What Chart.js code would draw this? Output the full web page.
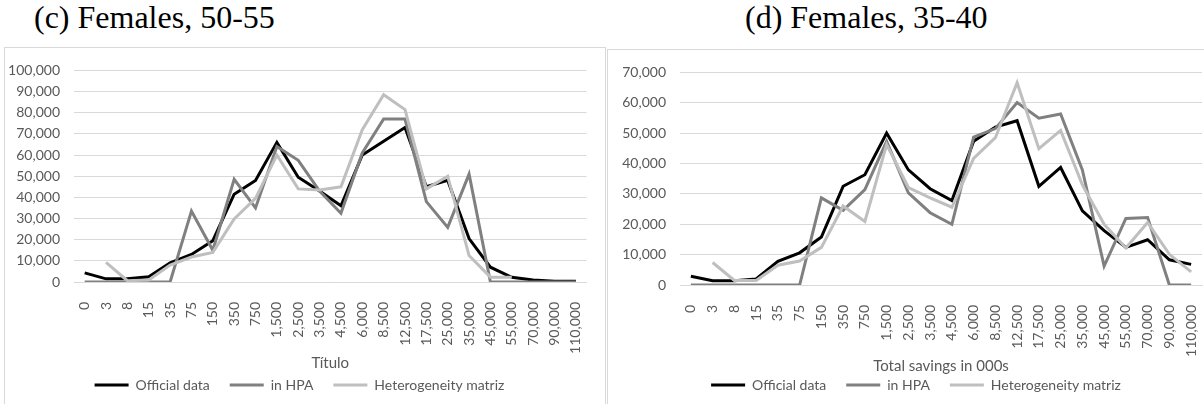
<!DOCTYPE html>
<html>
<head>
<meta charset="utf-8">
<script src="https://cdn.jsdelivr.net/npm/chart.js"></script>
<style>
  html, body { margin:0; padding:0; background:#fff; }
  body { width:1204px; height:404px; position:relative; overflow:hidden; }
  .ttl { position:absolute; top:1px; font-family:"Liberation Serif", serif; font-size:32px; line-height:1; color:#000; white-space:nowrap; }
  .box { position:absolute; border:1px solid #d9d9d9; overflow:hidden; }
  .box canvas { display:block; }
</style>
</head>
<body>
  <div class="ttl" style="left:34px;">(c) Females, 50-55</div>
  <div class="ttl" style="left:745px;">(d) Females, 35-40</div>
  <div class="box" style="left:4px;top:47px;width:600px;height:380px;">
    <canvas id="chartC" width="600" height="380"></canvas>
  </div>
  <div class="box" style="left:607px;top:49px;width:618px;height:380px;">
    <canvas id="chartD" width="618" height="380"></canvas>
  </div>
<script>
// savings brackets (000s), same for both panels
const brackets = ["0","3","8","15","35","75","150","350","750","1,500","2,500","3,500","4,500","6,000",
  "8,500","12,500","17,500","25,000","35,000","45,000","55,000","70,000","90,000","110,000"];

// (c) Females, 50-55
const officialC = [4300,1500,1500,2500,9000,13000,19500,41500,48000,66000,49500,43000,36000,60000,66500,73000,45000,48000,20500,7000,2200,900,400,300];
const hpaC      = [0,0,0,0,0,33500,15000,48500,35000,64000,57500,43000,32500,61000,77000,77000,38000,25800,51000,0,0,0,0,0];
const heteroC   = [null,9300,600,900,8000,11800,14000,29800,39500,60000,44000,43500,45000,72000,88500,81500,44000,50000,12500,2300,2300,null,null,null];

// (d) Females, 35-40
const officialD = [2900,1400,1400,2000,7800,10600,15800,32500,36300,50000,37900,31700,27800,47300,52000,54100,32500,38700,24400,17900,12400,14900,8300,6800];
const hpaD      = [0,0,0,0,0,0,28700,24600,31400,47300,30300,23800,20000,48700,51500,60100,54900,56300,37900,6200,21900,22200,0,0];
const heteroD   = [null,7400,1500,1500,6500,7900,12400,26000,20900,46200,32100,28700,25600,41700,48500,66600,44900,50900,33000,20000,12200,20600,10100,4300];

const seriesNames  = ["Official data","in HPA","Heterogeneity matriz"];
const seriesColors = ["#000000","#808080","#bfbfbf"];

const TXT = "#595959", GRID = "#d9d9d9";
const FONT = { family:"Lato, 'Open Sans', sans-serif", size:14 };

// nudge the legend sideways (Excel centres it on the whole box, not the plot)
const legendNudge = {
  id: "legendNudge",
  afterLayout(chart, args, o) {
    const lg = chart.legend;
    if (lg && o.dx) { lg.left += o.dx; lg.right += o.dx; }
  }
};

function makeChart(id, data, opt) {
  const ctx = document.getElementById(id).getContext("2d");
  return new Chart(ctx, {
    type: "line",
    plugins: [legendNudge],
    data: {
      labels: brackets,
      datasets: data.map((vals, i) => ({
        label: seriesNames[i],
        data: vals,
        borderColor: seriesColors[i],
        backgroundColor: seriesColors[i],
        borderWidth: 3,
        pointRadius: 0,
        tension: 0,
        spanGaps: false,
        order: 2 - i   // last series painted on top, like Excel
      }))
    },
    options: {
      responsive: false,
      animation: false,
      layout: { padding: { left: 0, right: opt.padR, top: opt.padT, bottom: opt.padB } },
      plugins: {
        tooltip: { enabled:false },
        legendNudge: { dx: opt.legendDx },
        legend: {
          position: "bottom",
          labels: {
            color: TXT, font: FONT, boxWidth: 34, boxHeight: 3, padding: 20,
            sort: (a, b) => a.datasetIndex - b.datasetIndex,
            generateLabels: ch => Chart.defaults.plugins.legend.labels.generateLabels(ch)
              .map(l => Object.assign(l, { lineWidth: 0 }))
          }
        }
      },
      scales: {
        x: {
          offset: true,
          grid: { display:false },
          border: { display:true, color: GRID, width: 1 },
          ticks: { color: TXT, font: FONT, autoSkip:false, maxRotation:90, minRotation:90, padding: 12 },
          title: { display:true, text: opt.xTitle, color: TXT, font: { family: FONT.family, size: 15 },
                   padding: { top: 0, bottom: opt.titlePadB } },
          afterFit: s => { s.height = opt.xH; }
        },
        y: {
          min: 0, max: opt.yMax,
          grid: { color: GRID, lineWidth: 1, drawTicks:false },
          border: { display:false },
          ticks: { stepSize: 10000, color: TXT, font: FONT, padding: 14,
                   callback: v => v.toLocaleString("en-US") },
          afterFit: s => { s.width = opt.yW; }
        }
      }
    }
  });
}

makeChart("chartC", [officialC, hpaC, heteroC],
  { yMax:100000, padR:17, padT:19, padB:26, yW:69, xH:76, titlePadB:-14, legendDx:3, xTitle:"Título" });
makeChart("chartD", [officialD, hpaD, heteroD],
  { yMax:70000, padR:24, padT:19, padB:28, yW:72, xH:73, titlePadB:-17, legendDx:11, xTitle:"Total savings in 000s" });
</script>
</body>
</html>
